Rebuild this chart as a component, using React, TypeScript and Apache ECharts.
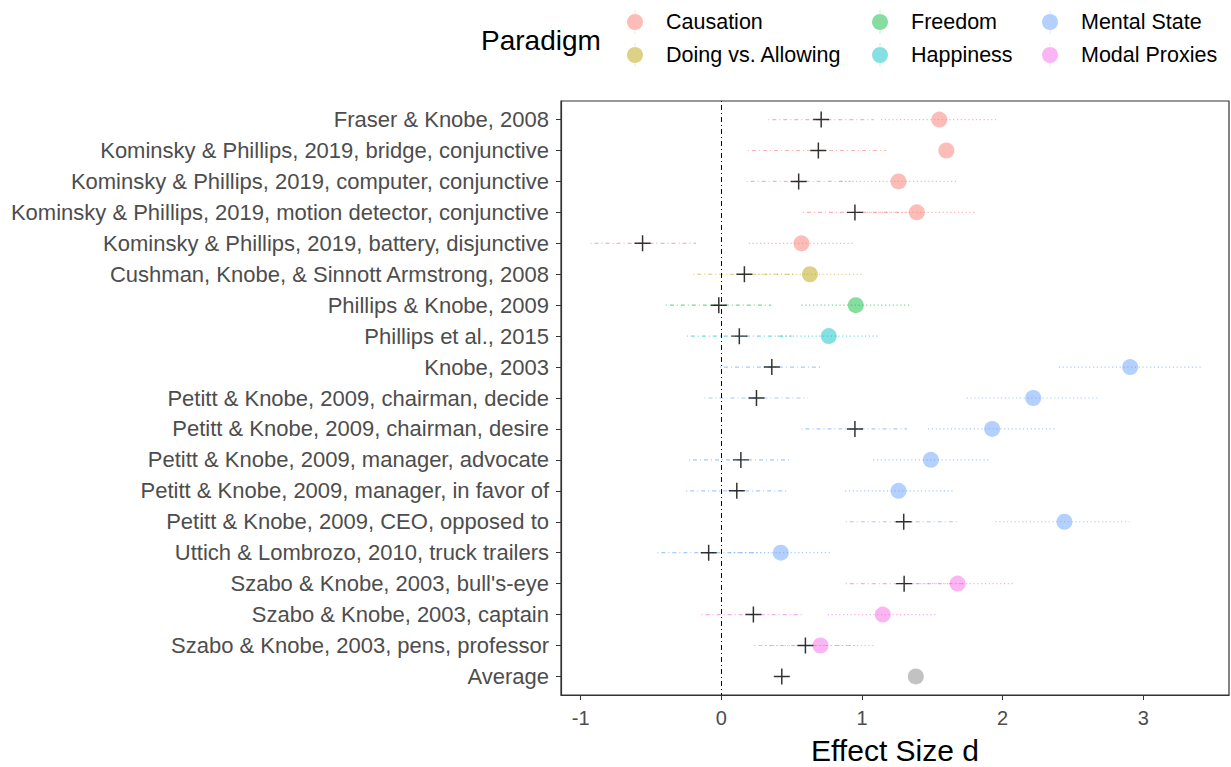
import React, { useEffect, useRef } from "react";
import * as echarts from "echarts";

const studies = [
  "Fraser & Knobe, 2008",
  "Kominsky & Phillips, 2019, bridge, conjunctive",
  "Kominsky & Phillips, 2019, computer, conjunctive",
  "Kominsky & Phillips, 2019, motion detector, conjunctive",
  "Kominsky & Phillips, 2019, battery, disjunctive",
  "Cushman, Knobe, & Sinnott Armstrong, 2008",
  "Phillips & Knobe, 2009",
  "Phillips et al., 2015",
  "Knobe, 2003",
  "Petitt & Knobe, 2009, chairman, decide",
  "Petitt & Knobe, 2009, chairman, desire",
  "Petitt & Knobe, 2009, manager, advocate",
  "Petitt & Knobe, 2009, manager, in favor of",
  "Petitt & Knobe, 2009, CEO, opposed to",
  "Uttich & Lombrozo, 2010, truck trailers",
  "Szabo & Knobe, 2003, bull's-eye",
  "Szabo & Knobe, 2003, captain",
  "Szabo & Knobe, 2003, pens, professor",
  "Average",
];

const paradigms = ["Causation", "Doing vs. Allowing", "Freedom", "Happiness", "Mental State", "Modal Proxies"];
// paradigm index per study (6 = Average)
const studyParadigm = [0, 0, 0, 0, 0, 1, 2, 3, 4, 4, 4, 4, 4, 4, 4, 5, 5, 5, 6];

const origD = [1.55, 1.6, 1.26, 1.39, 0.57, 0.63, 0.956, 0.764, 2.907, 2.218, 1.926, 1.49, 1.26, 2.44, 0.423, 1.68, 1.148, 0.705, 1.383];
const origLo = [1.135, null, 0.85, 0.98, 0.195, 0.26, 0.57, 0.4, 2.4, 1.745, 1.47, 1.08, 0.88, 1.95, 0.06, 1.28, 0.757, 0.316, null];
const origHi = [1.965, null, 1.67, 1.8, 0.94, 1.0, 1.34, 1.13, 3.41, 2.68, 2.37, 1.9, 1.65, 2.9, 0.79, 2.08, 1.54, 1.094, null];

const repD = [0.71, 0.69, 0.55, 0.95, -0.56, 0.164, -0.018, 0.128, 0.359, 0.25, 0.95, 0.139, 0.11, 1.297, -0.09, 1.3, 0.228, 0.598, 0.43];
const repLo = [0.334, 0.19, 0.18, 0.58, -0.93, -0.2, -0.395, -0.245, -0.01, -0.12, 0.57, -0.23, -0.25, 0.885, -0.455, 0.885, -0.14, 0.234, null];
const repHi = [1.084, 1.17, 0.92, 1.32, -0.18, 0.53, 0.355, 0.5, 0.71, 0.615, 1.32, 0.49, 0.477, 1.675, 0.28, 1.72, 0.585, 0.96, null];

const xTicks = [-1, 0, 1, 2, 3];

const rgb = [
  [248, 118, 109],
  [183, 159, 0],
  [0, 186, 56],
  [0, 191, 196],
  [97, 156, 255],
  [245, 100, 227],
  [127, 127, 127],
];
const rgba = (i: number, a: number) => `rgba(${rgb[i][0]},${rgb[i][1]},${rgb[i][2]},${a})`;

const FONT = "'Liberation Sans', Arial, sans-serif";
const legendIcon = "path://M8,4A8,8 0 1 1 7.999,4Z M7.75,0h0.5v24h-0.5Z";
const crossIcon = "path://M0,6.8h15v1.4h-15z M6.8,0h1.4v15h-1.4z";

export default function App() {
  const ref = useRef<HTMLDivElement>(null);
  useEffect(() => {
    if (!ref.current) return;
    const chart = echarts.init(ref.current, undefined, { renderer: "svg" });
    const rows = studies.map((_, i) => i);

    const ciSeries = (lo: (number | null)[], hi: (number | null)[], dash: number[], name: string) => ({
      type: "custom",
      name,
      silent: true,
      z: 1,
      encode: { x: [1, 2], y: 0 },
      data: rows.filter((i) => lo[i] != null && hi[i] != null).map((i) => [i, lo[i], hi[i], studyParadigm[i]]),
      renderItem: (params: any, api: any) => {
        const y = api.value(0);
        const p1 = api.coord([api.value(1), y]);
        const p2 = api.coord([api.value(2), y]);
        return {
          type: "line",
          shape: { x1: p1[0], y1: p1[1], x2: p2[0], y2: p2[1] },
          style: { stroke: rgba(api.value(3), 0.55), lineWidth: 1.2, lineDash: dash },
        };
      },
    });

    const pointSeries = [...paradigms, "Average"].map((name, pi) => ({
      type: "scatter",
      name,
      z: 3,
      symbol: "circle",
      symbolSize: 16,
      itemStyle: { color: rgba(pi, 0.6) },
      data: rows.filter((i) => studyParadigm[i] === pi).map((i) => [origD[i], i]),
    }));

    const legendCols = [
      { left: 627, data: ["Causation", "Doing vs. Allowing"] },
      { left: 872, data: ["Freedom", "Happiness"] },
      { left: 1042, data: ["Mental State", "Modal Proxies"] },
    ];

    chart.setOption({
      animation: false,
      backgroundColor: "#ffffff",
      textStyle: { fontFamily: FONT },
      title: {
        text: "Paradigm",
        left: 481,
        top: 26,
        padding: 0,
        textStyle: { fontFamily: FONT, fontSize: 28, fontWeight: "normal", color: "#000" },
      },
      legend: legendCols.map((c) => ({
        orient: "vertical",
        left: c.left,
        top: 10,
        padding: 0,
        itemWidth: 52,
        itemHeight: 24,
        itemGap: 9,
        icon: legendIcon,
        selectedMode: false,
        data: c.data,
        textStyle: { fontFamily: FONT, fontSize: 21.5, color: "#000" },
      })),
      grid: {
        left: 561,
        right: 2,
        top: 101,
        bottom: 72,
        containLabel: false,
        outerBoundsMode: "none",
        show: true,
        borderColor: "#333",
        borderWidth: 1.2,
        backgroundColor: "transparent",
      },
      xAxis: {
        type: "value",
        min: -1.14,
        max: 3.61,
        splitLine: { show: false },
        axisLine: { show: true, onZero: false, lineStyle: { color: "#333", width: 1.2 } },
        axisTick: { show: true, length: 5, customValues: xTicks, lineStyle: { color: "#333" } },
        axisLabel: { customValues: xTicks, fontSize: 20, color: "#4d4d4d", margin: 13, fontFamily: FONT },
        name: "Effect Size d",
        nameLocation: "middle",
        nameGap: 40,
        nameTextStyle: { fontFamily: FONT, fontSize: 30, color: "#000" },
      },
      yAxis: {
        type: "value",
        min: -0.6,
        max: 18.6,
        inverse: true,
        splitLine: { show: false },
        axisLine: { show: true, onZero: false, lineStyle: { color: "#333", width: 1.2 } },
        axisTick: { show: true, length: 5, customValues: rows, lineStyle: { color: "#333" } },
        axisLabel: {
          customValues: rows,
          formatter: (v: number) => studies[Math.round(v)] ?? "",
          fontSize: 22,
          color: "#4d4d4d",
          margin: 12,
          fontFamily: FONT,
        },
      },
      series: [
        ciSeries(origLo, origHi, [1.2, 2.6], "orig-ci"),
        ciSeries(repLo, repHi, [1, 3, 4, 3], "rep-ci"),
        ...pointSeries,
        {
          type: "scatter",
          name: "Replication",
          z: 4,
          symbol: crossIcon,
          symbolSize: 16,
          itemStyle: { color: "#000" },
          data: rows.map((i) => [repD[i], i]),
          markLine: {
            silent: true,
            symbol: "none",
            label: { show: false },
            lineStyle: { color: "#000", width: 1, type: [1, 3, 5, 3] },
            data: [{ xAxis: 0 }],
          },
        },
      ],
    });
    return () => chart.dispose();
  }, []);
  return <div ref={ref} style={{ position: "fixed", left: 0, top: 0, width: 1231, height: 767 }} />;
}
